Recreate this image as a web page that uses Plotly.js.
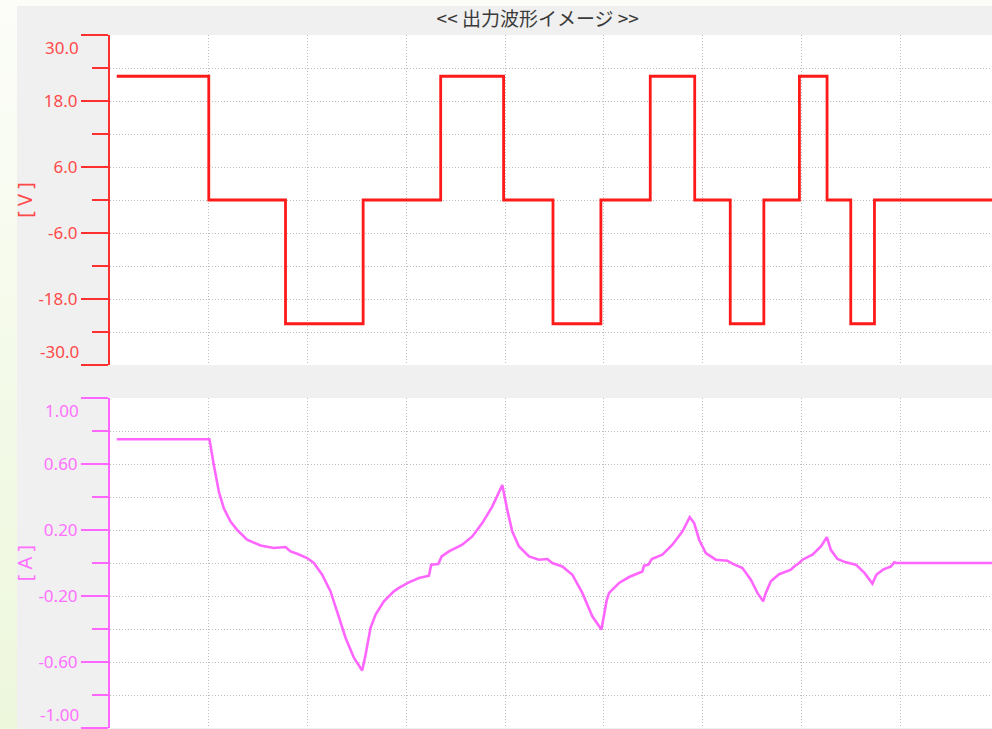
<!DOCTYPE html>
<html>
<head>
<meta charset="utf-8">
<script src="https://cdn.plot.ly/plotly-3.0.1.min.js"></script>
<style>
  html, body { margin:0; padding:0; }
  body { width:992px; height:729px; overflow:hidden; position:relative;
         background: linear-gradient(to bottom, #fcfdf9 0%, #f4fae9 50%, #edf7dc 100%); }
  #panel { position:absolute; left:17px; top:6px; right:0; bottom:0; background:#f0f0f0; }
  #chart { position:absolute; left:0; top:0; width:992px; height:729px; }
</style>
</head>
<body>
<div id="panel"></div>
<div id="chart"></div>
<script>
// ---- Data ----
const chartTitle = '&lt;&lt; 出力波形イメージ &gt;&gt;';
const voltUnit = '[ V ]';
const currUnit = '[ A ]';

// Tick labels
const voltTickVals = [-30, -18, -6, 6, 18, 30];
const voltTickText = ['-30.0', '-18.0', '-6.0', '6.0', '18.0', '30.0'];
const currTickVals = [-1, -0.6, -0.2, 0.2, 0.6, 1];
const currTickText = ['-1.00', '-0.60', '-0.20', '0.20', '0.60', '1.00'];

// Output voltage (step waveform): switching times and levels held until next time
const voltTime  = [0.068, 1.0, 1.777, 2.563, 3.348, 3.985, 4.485, 4.97, 5.47, 5.92, 6.28, 6.62, 6.98, 7.26, 7.50, 7.74, 8.93];
const voltLevel = [22.5, 0, -22.5, 0, 22.5, 0, -22.5, 0, 22.5, 0, -22.5, 0, 22.5, 0, -22.5, 0, 0];

// Output current
const currTime = [0.068, 1.007, 1.051, 1.102, 1.152, 1.220, 1.287, 1.388, 1.524, 1.659, 1.777, 1.828, 1.895, 1.996, 2.064,
  2.148, 2.233, 2.300, 2.385, 2.469, 2.553, 2.588, 2.638, 2.689, 2.773, 2.874, 2.925, 3.026, 3.128, 3.229, 3.252, 3.323,
  3.358, 3.432, 3.566, 3.668, 3.769, 3.870, 3.972, 4.022, 4.073, 4.141, 4.242, 4.343, 4.428, 4.478, 4.580, 4.681, 4.782,
  4.883, 4.975, 4.998, 5.027, 5.053, 5.086, 5.154, 5.256, 5.390, 5.407, 5.451, 5.485, 5.593, 5.694, 5.795, 5.870, 5.914,
  5.965, 6.032, 6.134, 6.251, 6.302, 6.403, 6.488, 6.555, 6.613, 6.640, 6.691, 6.775, 6.894, 6.927, 6.977, 7.011, 7.112,
  7.198, 7.258, 7.298, 7.365, 7.450, 7.551, 7.639, 7.719, 7.759, 7.826, 7.907, 7.940, 7.960, 8.93];
const currValue = [0.75, 0.75, 0.594, 0.433, 0.332, 0.251, 0.201, 0.141, 0.106, 0.091, 0.097, 0.070, 0.056, 0.030, 0.0,
  -0.071, -0.172, -0.292, -0.453, -0.574, -0.651, -0.554, -0.393, -0.312, -0.232, -0.172, -0.151, -0.117, -0.091, -0.077, -0.010, -0.006,
  0.040, 0.070, 0.111, 0.161, 0.242, 0.342, 0.473, 0.322, 0.191, 0.100, 0.040, 0.020, 0.024, 0.0, -0.021, -0.071, -0.181,
  -0.323, -0.403, -0.33, -0.23, -0.181, -0.161, -0.121, -0.085, -0.051, -0.016, -0.010, 0.024, 0.050, 0.111, 0.191, 0.278, 0.242,
  0.141, 0.060, 0.020, 0.014, -0.004, -0.030, -0.101, -0.181, -0.232, -0.181, -0.111, -0.068, -0.040, -0.021, 0.0, 0.020, 0.050,
  0.100, 0.157, 0.080, 0.024, 0.004, -0.010, -0.060, -0.125, -0.071, -0.040, -0.021, 0.004, 0.0, 0.0];

// ---- Styles ----
const vColor = '#ff3030';
const vText = '#ff4a4a';
const aColor = '#ff66ff';
const aText = '#ff70ff';
const gridColor = '#bdbdbd';
const gridDash = '1px,2px';
const numFont = 'Noto Sans, Liberation Sans, sans-serif';
const jpFont = 'Noto Sans CJK JP, sans-serif';
const tickSize = 17;
const xMax = 8.93;

const traces = [
  { x: voltTime, y: voltLevel, type: 'scatter', mode: 'lines', line: { shape: 'hv', color: '#ff1a1a', width: 2.8 },
    xaxis: 'x', yaxis: 'y', hoverinfo: 'skip' },
  { x: currTime, y: currValue, type: 'scatter', mode: 'lines', line: { shape: 'linear', color: aColor, width: 2.6 },
    xaxis: 'x2', yaxis: 'y2', hoverinfo: 'skip' }
];

function xAxis(anchor) {
  return {
    anchor: anchor, domain: [0, 1], range: [0, xMax], dtick: 1, tick0: 0,
    showgrid: true, gridcolor: gridColor, griddash: gridDash, gridwidth: 1,
    zeroline: false, showline: false, showticklabels: false, ticks: '', fixedrange: true
  };
}
// inner labels drawn by the axis; the two end labels are nudged inward like the original
function innerText(arr) { return arr.map((t, i) => (i === 0 || i === arr.length - 1) ? '' : t); }

function yAxis(anchor, domain, range, vals, texts, minorDtick, color, txtColor, title) {
  return {
    anchor: anchor, domain: domain, range: range,
    tickmode: 'array', tickvals: vals, ticktext: innerText(texts),
    ticks: 'outside', ticklen: 27, tickwidth: 2, tickcolor: color,
    showline: true, linecolor: color, linewidth: 2,
    showgrid: true, gridcolor: gridColor, griddash: gridDash, gridwidth: 1, zeroline: false,
    tickfont: { family: numFont, size: tickSize, color: txtColor },
    minor: { dtick: minorDtick, tick0: range[0], ticks: 'outside', ticklen: 16, tickwidth: 2, tickcolor: color,
             showgrid: true, gridcolor: gridColor, griddash: gridDash, gridwidth: 1 },
    title: { text: title, font: { family: numFont, size: 20, color: txtColor }, standoff: 0 },
    fixedrange: true
  };
}

function endLabels(yref, vals, texts, txtColor) {
  const n = vals.length;
  return [
    { xref: 'paper', yref: yref, x: 0, y: vals[n - 1], text: texts[n - 1], showarrow: false,
      xanchor: 'right', yanchor: 'top', xshift: -29, yshift: 1, font: { family: numFont, size: tickSize, color: txtColor } },
    { xref: 'paper', yref: yref, x: 0, y: vals[0], text: texts[0], showarrow: false,
      xanchor: 'right', yanchor: 'bottom', xshift: -29, yshift: 0, font: { family: numFont, size: tickSize, color: txtColor } }
  ];
}

const layout = {
  width: 992, height: 729,
  margin: { l: 110, r: 0, t: 0, b: 0, pad: 0 },
  paper_bgcolor: 'rgba(0,0,0,0)', plot_bgcolor: '#ffffff',
  showlegend: false,
  title: { text: chartTitle, x: 0.485, xref: 'paper', xanchor: 'center', y: 1 - 19 / 729, yref: 'container', yanchor: 'middle',
           font: { family: jpFont, size: 19, color: '#3a3a3a' } },
  xaxis: xAxis('y'),
  xaxis2: Object.assign(xAxis('y2'), { matches: 'x' }),
  yaxis: yAxis('x', [1 - 365 / 729, 1 - 35 / 729], [-30, 30], voltTickVals, voltTickText, 6, vColor, vText, voltUnit),
  yaxis2: yAxis('x2', [1 / 729, 1 - 398 / 729], [-1, 1], currTickVals, currTickText, 0.2, aColor, aText, currUnit),
  annotations: endLabels('y', voltTickVals, voltTickText, vText).concat(endLabels('y2', currTickVals, currTickText, aText))
};

Plotly.newPlot('chart', traces, layout, { displayModeBar: false, staticPlot: true });
</script>
</body>
</html>
